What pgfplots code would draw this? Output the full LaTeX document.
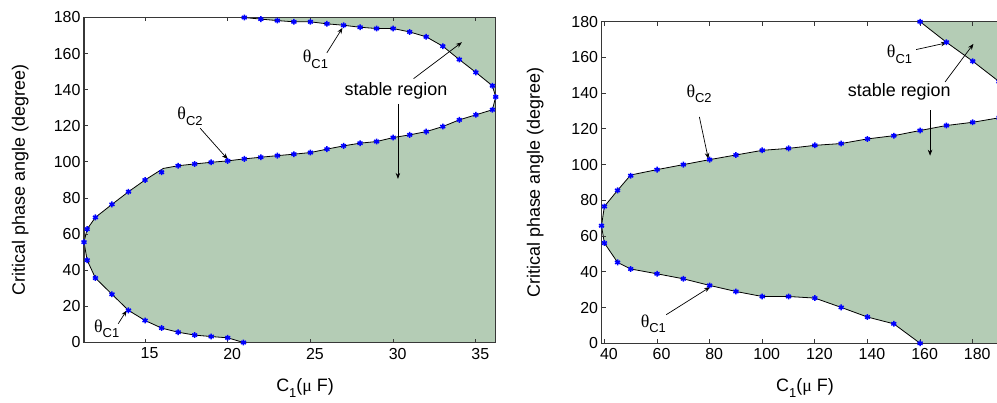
\documentclass[border=0pt]{standalone}
\usepackage{fontspec}
\setmainfont{Liberation Sans}
\newfontfamily\greek{Liberation Serif}
\usepackage{pgfplots}
\pgfplotsset{compat=1.18}
\usetikzlibrary{arrows.meta,calc}

\definecolor{stable}{RGB}{180,204,181}
\definecolor{spine}{RGB}{55,55,55}
\newcommand{\lbl}{\fontsize{18}{20}\selectfont}
\newcommand{\tck}{\fontsize{16}{18}\selectfont}
\newcommand{\sub}[1]{\raisebox{-0.32em}{\fontsize{13}{13}\selectfont #1}}
\newcommand{\thetaC}[1]{{\greek θ}\sub{#1}}

\tikzset{
  note/.style={font=\lbl, inner sep=0pt},
  pointer/.style={-{Stealth[length=6bp,width=4.5bp]}, line width=0.7bp},
}
\pgfplotsset{
  panel/.style={
    scale only axis, axis on top,
    axis line style={spine, line width=1.2bp},
    tick style={spine, line width=1bp},
    major tick length=4bp,
    ymin=0, ymax=180, ytick={0,20,...,180},
    xtick pos=both, ytick pos=left,
    tick align=inside,
    /pgf/number format/assume math mode=true,
    tick label style={font=\tck},
    label style={font=\lbl},
    xticklabel style={xshift=4.5bp, yshift=-2bp},
    ylabel={Critical phase angle (degree)},
    xlabel={C\sub{1}({\greek μ} F)},
  },
  boundary/.style={black, line width=0.8bp, no marks},
  dots/.style={only marks, mark=asterisk, mark size=2.9bp, blue,
    mark options={line width=1.5bp}},
}

\begin{document}
\begin{tikzpicture}

% ---------------- left panel ----------------
\begin{axis}[panel, name=L, at={(0bp,0bp)}, anchor=south west,
  width=411.7bp, height=325bp,
  xmin=11.31, xmax=36.2, xtick={15,20,...,35},
  xlabel style={at={(axis description cs:0.537,-0.152)}, anchor=base, inner sep=0pt},
  ylabel style={at={(axis description cs:-0.155,0.5)}, anchor=center}]

% stable region (below theta_C2, above the lower theta_C1 branch)
\addplot[fill=stable, draw=none] coordinates {
  (20.95,0) (20,2.6) (19,3.3) (18,4.1) (17,5.7) (16,8.0) (15,12.2)
  (14,17.8) (13,26.7) (12,35.7) (11.5,45.6) (11.31,55.6)
  (11.5,62.8) (12,69.3) (13,76.5) (14,83.5) (15,90) (16.1,96.4)
  (17,97.9) (18,98.9) (19,99.8) (20,100.6) (21,101.7) (22,102.6)
  (23,103.5) (24,104.3) (25,105.2) (26,107.1) (27,108.9) (28,110.4)
  (29,111.3) (30,113.5) (31,115.0) (32,116.8) (33,119.6) (34,123.3)
  (35,126.1) (36,128.9) (36.2,136) (36.2,0)} -- cycle;
% stable region above the upper theta_C1 branch
\addplot[fill=stable, draw=none] coordinates {
  (21,180) (22,179.1) (23,178.3) (24,177.6) (25,177.6) (26,176.5)
  (27,175.7) (28,174.6) (29,173.9) (30,173.9) (31,172.0) (32,169.3)
  (33,164.1) (34,156.7) (35,149.6) (36,142.2) (36.2,136) (36.2,180)} -- cycle;

% critical boundary
\addplot[boundary] coordinates {
  (20.95,0) (20,2.6) (19,3.3) (18,4.1) (17,5.7) (16,8.0) (15,12.2)
  (14,17.8) (13,26.7) (12,35.7) (11.5,45.6) (11.31,55.6)
  (11.5,62.8) (12,69.3) (13,76.5) (14,83.5) (15,90) (16.1,96.4)
  (17,97.9) (18,98.9) (19,99.8) (20,100.6) (21,101.7) (22,102.6)
  (23,103.5) (24,104.3) (25,105.2) (26,107.1) (27,108.9) (28,110.4)
  (29,111.3) (30,113.5) (31,115.0) (32,116.8) (33,119.6) (34,123.3)
  (35,126.1) (36,128.9) (36.2,136)
  (36,142.2) (35,149.6) (34,156.7) (33,164.1) (32,169.3) (31,172.0)
  (30,173.9) (29,173.9) (28,174.6) (27,175.7) (26,176.5) (25,177.6)
  (24,177.6) (23,178.3) (22,179.1) (21,180)};

% computed points
\addplot[dots] coordinates {
  (20.95,0) (20,2.6) (19,3.3) (18,4.1) (17,5.7) (16,8.0) (15,12.2)
  (14,17.8) (13,26.7) (12,35.7) (11.5,45.6) (11.31,55.6)
  (11.5,62.8) (12,69.3) (13,76.5) (14,83.5) (15,90) (16,94.3)
  (17,97.9) (18,98.9) (19,99.8) (20,100.6) (21,101.7) (22,102.6)
  (23,103.5) (24,104.3) (25,105.2) (26,107.1) (27,108.9) (28,110.4)
  (29,111.3) (30,113.5) (31,115.0) (32,116.8) (33,119.6) (34,123.3)
  (35,126.1) (36,128.9) (36.2,136)
  (36,142.2) (35,149.6) (34,156.7) (33,164.1) (32,169.3) (31,172.0)
  (30,173.9) (29,173.9) (28,174.6) (27,175.7) (26,176.5) (25,177.6)
  (24,177.6) (23,178.3) (22,179.1) (21,180)};

\node[note] at (axis cs:25.3,157) {\thetaC{C1}};
\draw[pointer] (axis cs:25.99,160.4) -- (axis cs:26.94,174.3);
\node[note] at (axis cs:30.17,139.6) {stable region};
\draw[pointer] (axis cs:31.23,146.1) -- (axis cs:34.16,166.3);
\draw[pointer] (axis cs:30.29,132.1) -- (axis cs:30.29,90.6);
\node[note] at (axis cs:17.72,125.2) {\thetaC{C2}};
\draw[pointer] (axis cs:18.33,118.7) -- (axis cs:20.0,101.5);
\node[note] at (axis cs:12.68,7.6) {\thetaC{C1}};
\draw[pointer] (axis cs:13.38,10.4) -- (axis cs:13.89,17.8);
\end{axis}

% ---------------- right panel ----------------
\begin{axis}[panel, name=R, at={($(L.south west)+(517.5bp,-0.8bp)$)},
  anchor=south west,
  width=397.5bp, height=321.6bp,
  xmin=38.9, xmax=190, xtick={40,60,...,180},
  xlabel style={at={(axis description cs:0.512,-0.151)}, anchor=base, inner sep=0pt},
  ylabel style={at={(axis description cs:-0.1667,0.5)}, anchor=center}]

\addplot[fill=stable, draw=none] coordinates {
  (160,0) (150,10.9) (140,14.7) (130,20.1) (120,25.3) (110,26.2)
  (100,26.2) (90,29.0) (80,32.4) (70,36.1) (60,38.9) (50,41.6)
  (45,45.3) (40,56.1) (38.9,65.8)
  (40,76.6) (45,85.6) (50,94.2) (60,97.2) (70,100) (80,102.8)
  (90,105.4) (100,108.0) (110,109.1) (120,110.8) (130,111.8)
  (140,114.4) (150,116.2) (160,119.1) (170,121.9) (180,123.7)
  (190,126.2) (190,0)} -- cycle;
\addplot[fill=stable, draw=none] coordinates {
  (160,180) (170,168.5) (180,157.9) (190,146.5) (190,180)} -- cycle;

\addplot[boundary] coordinates {
  (160,0) (150,10.9) (140,14.7) (130,20.1) (120,25.3) (110,26.2)
  (100,26.2) (90,29.0) (80,32.4) (70,36.1) (60,38.9) (50,41.6)
  (45,45.3) (40,56.1) (38.9,65.8)
  (40,76.6) (45,85.6) (50,94.2) (60,97.2) (70,100) (80,102.8)
  (90,105.4) (100,108.0) (110,109.1) (120,110.8) (130,111.8)
  (140,114.4) (150,116.2) (160,119.1) (170,121.9) (180,123.7)
  (190,126.2)};
\addplot[boundary] coordinates {
  (160,180) (170,168.5) (180,157.9) (190,146.5)};

\addplot[dots] coordinates {
  (160,0) (150,10.9) (140,14.7) (130,20.1) (120,25.3) (110,26.2)
  (100,26.2) (90,29.0) (80,32.4) (70,36.1) (60,38.9) (50,41.6)
  (45,45.3) (40,56.1) (38.9,65.8)
  (40,76.6) (45,85.6) (50,93.8) (60,97.2) (70,100) (80,102.8)
  (90,105.4) (100,108.0) (110,109.1) (120,110.8) (130,111.8)
  (140,114.4) (150,116.2) (160,119.1) (170,121.9) (180,123.7)
  (190,126.2)
  (160,180) (170,168.5) (180,157.9) (190,146.5)};

\node[note] at (axis cs:76.0,139.6) {\thetaC{C2}};
\draw[pointer] (axis cs:76.1,126.7) -- (axis cs:79.5,103.2);
\node[note] at (axis cs:152.2,161.6) {\thetaC{C1}};
\draw[pointer] (axis cs:158.5,164.4) -- (axis cs:170.2,168.2);
\node[note] at (axis cs:152.1,140.5) {stable region};
\draw[pointer] (axis cs:169.5,146.3) -- (axis cs:180.3,167.6);
\draw[pointer] (axis cs:163.8,130.3) -- (axis cs:163.8,105.0);
\node[note] at (axis cs:58.6,10.9) {\thetaC{C1}};
\draw[pointer] (axis cs:63.5,16) -- (axis cs:80.2,31.5);
\end{axis}

\pgfresetboundingbox
\path[use as bounding box] ($(L.south west)+(-84bp,-60.5bp)$) rectangle ++(997bp,403bp);
\end{tikzpicture}
\end{document}
